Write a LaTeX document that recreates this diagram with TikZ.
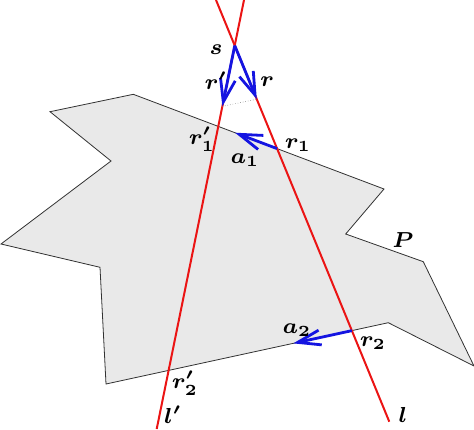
\documentclass[tikz,border=0pt]{standalone}
\usepackage{graphicx}
\usepackage{amsmath}
\usetikzlibrary{arrows.meta,calc}
\definecolor{polyfill}{RGB}{233,233,233}
\definecolor{polyline}{RGB}{50,50,50}
\definecolor{rayred}{RGB}{235,20,20}
\definecolor{arrblue}{RGB}{20,20,225}
\newcommand{\biglab}[1]{\scalebox{3.1}{\scriptsize$#1$}}
\begin{document}
\begin{tikzpicture}[x=1pt,y=-1pt,
  poly/.style={fill=polyfill,draw=polyline,line width=0.8pt,line join=miter},
  ray/.style={draw=rayred,line width=2pt},
  dir/.style={draw=arrblue,line width=2.8pt,-{Straight Barb[length=23pt,width=15pt]}},
  lab/.style={inner sep=0pt,font=\boldmath},
  dots/.style={draw=gray,line width=0.6pt,dotted}]
\useasboundingbox (0,0) rectangle (474,429);
% polygon P
\coordinate (p1) at (50,111.7);
\coordinate (p2) at (133.3,94.3);
\coordinate (p3) at (384,189);
\coordinate (p4) at (345.7,234);
\coordinate (p5) at (423.3,261.7);
\coordinate (p6) at (474,366);
\coordinate (p7) at (388.3,322.7);
\coordinate (p8) at (106,384);
\coordinate (p9) at (100,267.3);
\coordinate (p10) at (1,244);
\coordinate (p11) at (111,161);
\path[poly] (p1) -- (p2) -- (p3) -- (p4) -- (p5) -- (p6) -- (p7) -- (p8) -- (p9) -- (p10) -- (p11) -- cycle;
% lines l and l'
\coordinate (lA) at (216,0);
\coordinate (lB) at (389.3,421.7);
\coordinate (lpA) at (244,0);
\coordinate (lpB) at (156.7,429);
\draw[ray] (lA) -- (lB);
\draw[ray] (lpA) -- (lpB);
% key points
\coordinate (s) at (intersection of lA--lB and lpA--lpB);
\coordinate (r1) at (intersection of lA--lB and p2--p3);
\coordinate (r1p) at (intersection of lpA--lpB and p2--p3);
\coordinate (r2) at (intersection of lA--lB and p7--p8);
\coordinate (r2p) at (intersection of lpA--lpB and p7--p8);
\coordinate (rp) at ($(s)!62pt!(lpB)$);
\coordinate (r) at ($(s)!58pt!(lB)$);
\coordinate (a1tip) at ($(r1)!45pt!(r1p)$);
\coordinate (a2tip) at ($(r2)!60pt!(r2p)$);
% arrows
\draw[dots] (rp) -- (r);
\draw[dir] (s) -- (rp);
\draw[dir] (s) -- (r);
\draw[dir] (r1) -- (a1tip);
\draw[dir] (r2) -- (a2tip);
% labels
\node[lab] (ls) at (216,50) {\biglab{s}};
\node[lab] (lrp) at (216,81) {\biglab{r'}};
\node[lab] (lr) at (267,82) {\biglab{r}};
\node[lab] (lr1p) at (202,139) {\biglab{r'_1}};
\node[lab] (la1) at (245,160) {\biglab{a_1}};
\node[lab] (lr1) at (298,145) {\biglab{r_1}};
\node[lab] (lP) at (403,240) {\biglab{P}};
\node[lab] (la2) at (297,330) {\biglab{a_2}};
\node[lab] (lr2) at (373,343) {\biglab{r_2}};
\node[lab] (lr2p) at (185,383) {\biglab{r'_2}};
\node[lab] (llp) at (173,415) {\biglab{l'}};
\node[lab] (ll) at (403,415) {\biglab{l}};
\end{tikzpicture}
\end{document}
